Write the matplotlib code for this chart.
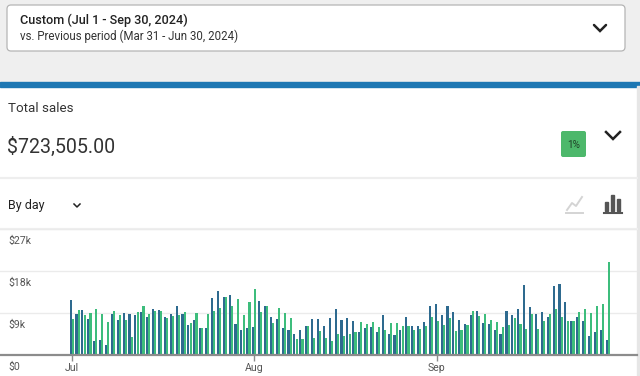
import matplotlib
matplotlib.use("Agg")
import matplotlib.pyplot as plt
from matplotlib.patches import FancyBboxPatch, Rectangle
import numpy as np

plt.rcParams['font.family'] = ['Roboto', 'DejaVu Sans']

# ---- data (thousands of $) ----
current = [11.7, 8.85, 9.6, 7.8, 2.9, 3.3, 2.1, 8.85, 7.6, 9.0, 8.85, 8.6, 9.2,
           8.1, 9.9, 9.6, 8.2, 8.85, 10.4, 8.85, 6.4, 7.6, 5.7, 5.85, 12.3, 13.7,
           12.5, 12.9, 6.6, 5.4, 5.85,
           6.1, 11.6, 10.6, 8.2, 7.7, 5.85, 5.3, 4.5, 5.4, 6.3, 7.7, 7.7, 6.3, 7.9,
           9.8, 7.5, 7.9, 7.3, 4.9, 5.85, 6.1, 4.9, 8.6, 4.4, 4.2, 5.4, 8.1, 6.3,
           6.3, 7.1, 10.4,
           11.0, 8.6, 10.4, 9.2, 7.5, 6.7, 8.6, 9.5, 6.9, 6.7, 5.4, 4.4, 9.35, 8.6,
           9.9, 14.9, 10.2, 8.8, 9.2, 8.2, 14.7, 15.3, 11.4, 7.2, 8.2, 7.35, 4.1,
           5.0, 5.4, 3.3]
previous = [7.8, 9.7, 8.6, 9.1, 9.9, 8.8, 7.0, 9.5, 8.6, 7.6, 3.9, 9.2, 10.4,
            8.85, 9.4, 9.4, 8.0, 8.4, 8.5, 9.2, 6.9, 9.0, 5.85, 8.85, 9.5, 10.1,
            12.4, 10.5, 11.9, 8.6, 11.3,
            14.1, 9.2, 10.5, 6.9, 10.1, 9.1, 7.9, 3.4, 3.4, 6.3, 3.6, 5.1, 3.6, 3.0,
            4.4, 4.1, 4.4, 4.9, 7.1, 6.7, 7.1, 6.0, 5.3, 6.9, 6.9, 6.3, 6.3, 5.3,
            5.6, 6.3, 8.1,
            7.3, 6.5, 7.9, 5.1, 5.4, 6.5, 9.5, 8.4, 8.8, 7.6, 7.1, 6.1, 6.5, 7.9,
            6.7, 5.6, 8.8, 5.6, 7.35, 8.8, 9.9, 8.2, 7.35, 7.35, 9.2, 9.8, 9.0,
            10.6, 11.0, 19.9]
month_labels = ["Jul", "Aug", "Sep"]
month_starts = [0, 31, 62]
y_ticks = [0, 9000, 18000, 27000]
y_labels = ["$0", "$9k", "$18k", "$27k"]

W, H = 640, 376
fig = plt.figure(figsize=(6.4, 3.76), dpi=100)
fig.patch.set_facecolor("white")

# ---- overlay (pixel coordinates) ----
ov = fig.add_axes([0, 0, 1, 1])
ov.set_xlim(0, W)
ov.set_ylim(H, 0)
ov.axis("off")

ov.add_patch(Rectangle((0, 0), W, 82, color="#efefef", zorder=0))
ov.add_patch(Rectangle((0, 82), W, 4.5, color="#1d77b3", zorder=1))
ov.add_patch(Rectangle((637, 86), 3, H - 86, color="#e6e6e6", zorder=1))
ov.add_patch(FancyBboxPatch((7, 5), 618, 46, boxstyle="round,pad=0,rounding_size=4",
                            facecolor="white", edgecolor="#b5b5b5", lw=0.9, zorder=2))
ov.text(20, 20, "Custom (Jul 1 - Sep 30, 2024)", fontsize=9.1, fontweight="medium",
        color="#222222", va="center", ha="left", zorder=3)
ov.text(20, 36.5, "vs. Previous period (Mar 31 - Jun 30, 2024)", fontsize=8.3,
        color="#333333", va="center", ha="left", zorder=3)
ov.plot([594, 600, 606], [25, 31, 25], color="#222222", lw=1.8,
        solid_capstyle="round", solid_joinstyle="miter", zorder=3)

ov.text(8, 108.5, "Total sales", fontsize=9.6, color="#333333", va="center", ha="left")
ov.text(7, 146.5, "$723,505.00", fontsize=14.1, color="#333333", va="center", ha="left")
ov.add_patch(FancyBboxPatch((561, 131), 25, 26, boxstyle="round,pad=0,rounding_size=2",
                            facecolor="#4db86b", edgecolor="none", zorder=2))
ov.text(573.5, 145, "1%", fontsize=7.2, color="#1f3f26", va="center", ha="center", zorder=3)
ov.plot([606, 613, 620], [132, 139, 132], color="#222222", lw=1.8,
        solid_joinstyle="miter", zorder=3)

ov.plot([0, 637], [178, 178], color="#eeeeee", lw=1.6, zorder=1)
ov.text(8, 205.5, "By day", fontsize=9.0, color="#222222", va="center", ha="left")
ov.plot([74, 77, 80], [204, 207, 204], color="#222222", lw=1.1, zorder=3)

# line icon (light)
ov.plot([567, 572, 576, 582], [210, 203, 206, 197], color="#d4d4d4", lw=1.4)
ov.plot([566, 583], [213, 213], color="#d4d4d4", lw=1.4)
# bar icon (dark)
for bx, bh in [(606.5, 9), (612.5, 16), (618.5, 12)]:
    ov.add_patch(Rectangle((bx - 1.8, 211 - bh), 3.6, bh, color="#555555"))
ov.plot([603.5, 621.5], [212.8, 212.8], color="#555555", lw=1.5)
ov.plot([0, 637], [229, 229], color="#eeeeee", lw=1.6, zorder=1)

# ---- chart axes ----
px_per_day = 5.89
x0_px = 71.7
base_px, top_px = 355, 229
ax = fig.add_axes([0, (H - base_px) / H, 637 / W, (base_px - top_px) / H])
ax.set_facecolor("none")
ax.set_xlim(-x0_px / px_per_day, (637 - x0_px) / px_per_day)
ax.set_ylim(0, 27000)

days = np.arange(len(current))
cur = np.array(current) * 1000
prev = np.array(previous) * 1000
bw = 0.36
ax.bar(days - 0.19, cur, width=bw, color="#2e6a8f", linewidth=0, zorder=3)
ax.bar(days + 0.19, prev, width=bw, color="#3dbd7c", linewidth=0, zorder=3)

ax.set_yticks(y_ticks)
ax.yaxis.grid(True, color="#ebebeb", lw=1.0, zorder=0)
ax.tick_params(axis="y", left=False, labelleft=False)
for s in ["top", "right", "left"]:
    ax.spines[s].set_visible(False)
ax.spines["bottom"].set_color("#8c8c8c")
ax.spines["bottom"].set_linewidth(1.6)
ax.spines["bottom"].set_zorder(4)

ax.set_xticks(month_starts)
ax.set_xticklabels(month_labels, fontsize=7.6, color="#555555")
ax.tick_params(axis="x", length=4, width=1, color="#8c8c8c", pad=1.5)

for v, lab in zip(y_ticks, y_labels):
    ax.annotate(lab, xy=(8 / 637, v), xycoords=("axes fraction", "data"),
                xytext=(0, -12), textcoords="offset pixels",
                fontsize=7.6, color="#555555", va="center", ha="left",
                annotation_clip=False)

fig.savefig("out.png", dpi=100, facecolor="white")
